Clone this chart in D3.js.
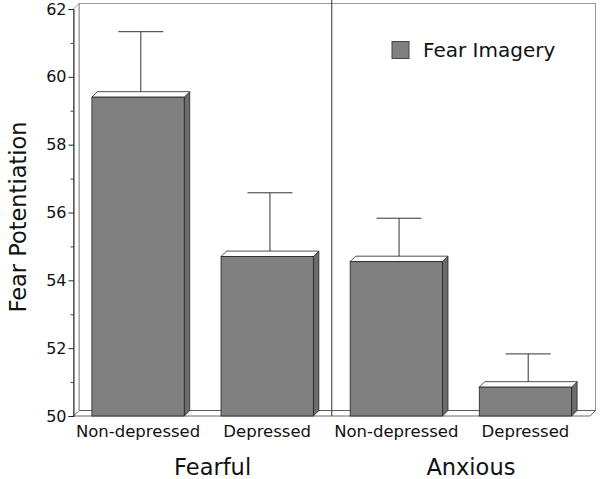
<!DOCTYPE html>
<html><head><meta charset="utf-8">
<script src="https://cdn.jsdelivr.net/npm/d3@7"></script>
<style>html,body{margin:0;padding:0;background:#fff;}svg{display:block;}</style>
</head><body>
<svg id="chart" width="600" height="479"></svg>
<script>
const categories = ["Non-depressed", "Depressed", "Non-depressed", "Depressed"];
const groups = ["Fearful", "Anxious"];
const groupOf = [0, 0, 1, 1];
const values = [59.4, 54.7, 54.55, 50.85];
const errors = [1.85, 1.8, 1.2, 0.9];
const yTicks = [50, 52, 54, 56, 58, 60, 62];
const yMinorTicks = [51, 53, 55, 57, 59, 61];
const seriesName = "Fear Imagery";

const svg = d3.select("#chart");
const font = "'DejaVu Sans', Verdana, sans-serif";
const pLeft = 73.5, pRight = 590, pTop = 9, pBottom = 416, dep = 5.5;

const x = d3.scaleBand().domain(d3.range(categories.length)).range([pLeft, pRight]).paddingInner(0.285).paddingOuter(0.1425);
const y = d3.scaleLinear().domain([50, 62]).range([pBottom, pTop]);

// back wall
const g = svg.append("g");
g.append("rect").attr("x", pLeft + dep).attr("y", pTop - dep).attr("width", pRight - pLeft).attr("height", pBottom - pTop)
  .attr("fill", "none").attr("stroke", "#999").attr("stroke-width", 1);
// floor
g.append("path").attr("d", `M${pLeft},${pBottom}L${pRight},${pBottom}L${pRight + dep},${pBottom - dep}L${pLeft + dep},${pBottom - dep}Z`)
  .attr("fill", "#fff").attr("stroke", "#444").attr("stroke-width", 0.8);
// left wall
g.append("path").attr("d", `M${pLeft},${pBottom}L${pLeft},${pTop}L${pLeft + dep},${pTop - dep}L${pLeft + dep},${pBottom - dep}Z`)
  .attr("fill", "#fff").attr("stroke", "#777").attr("stroke-width", 0.8);

// group divider
const divX = (x(1) + x.bandwidth() + x(2)) / 2;
g.append("line").attr("x1", divX).attr("x2", divX).attr("y1", 0).attr("y2", pBottom)
  .attr("stroke", "#333").attr("stroke-width", 1);

// bars
const bars = svg.append("g").selectAll("g").data(values).join("g");
bars.each(function(v, i) {
  const b = d3.select(this);
  const x0 = x(i), x1 = x(i) + x.bandwidth(), yt = y(v);
  const cx = (x0 + x1) / 2 + dep / 2;
  const ye = y(v + errors[i]) - dep / 2;
  b.append("line").attr("x1", cx).attr("x2", cx).attr("y1", yt - dep / 2).attr("y2", ye).attr("stroke", "#333").attr("stroke-width", 1);
  b.append("line").attr("x1", cx - 22.5).attr("x2", cx + 22.5).attr("y1", ye).attr("y2", ye).attr("stroke", "#333").attr("stroke-width", 1);
  b.append("path").attr("d", `M${x1},${yt}L${x1 + dep},${yt - dep}L${x1 + dep},${pBottom - dep}L${x1},${pBottom}Z`)
    .attr("fill", "#6c6c6c").attr("stroke", "#222").attr("stroke-width", 0.8);
  b.append("path").attr("d", `M${x0},${yt}L${x1},${yt}L${x1 + dep},${yt - dep}L${x0 + dep},${yt - dep}Z`)
    .attr("fill", "#fff").attr("stroke", "#222").attr("stroke-width", 0.8);
  b.append("rect").attr("x", x0).attr("y", yt).attr("width", x.bandwidth()).attr("height", pBottom - yt)
    .attr("fill", "#808080").attr("stroke", "#222").attr("stroke-width", 0.8);
});

// y axis
const yAxis = d3.axisLeft(y).tickValues(yTicks).tickSize(5).tickPadding(2).tickFormat(d3.format("d"));
const ya = svg.append("g").attr("transform", `translate(${pLeft},0)`).call(yAxis);
ya.select(".domain").attr("stroke", "#222");
ya.selectAll(".tick line").attr("stroke", "#222");
ya.selectAll("text").attr("font-family", font).attr("font-size", 16).attr("fill", "#111");
const yMinor = d3.axisLeft(y).tickValues(yMinorTicks).tickSize(3).tickFormat("");
const ym = svg.append("g").attr("transform", `translate(${pLeft},0)`).call(yMinor);
ym.select(".domain").remove();
ym.selectAll(".tick line").attr("stroke", "#444");

// category labels
svg.append("g").selectAll("text").data(categories).join("text")
  .attr("x", (c, i) => x(i) + x.bandwidth() / 2).attr("y", 437)
  .attr("text-anchor", "middle").attr("font-family", font).attr("font-size", 16.5).attr("fill", "#111")
  .text(c => c);

// group labels
svg.append("g").selectAll("text").data(groups).join("text")
  .attr("x", (gname, gi) => {
    const idx = groupOf.map((gg, i) => gg === gi ? i : -1).filter(i => i >= 0);
    return (x(idx[0]) + x(idx[idx.length - 1]) + x.bandwidth()) / 2 + 10;
  })
  .attr("y", 475).attr("text-anchor", "middle").attr("font-family", font).attr("font-size", 22.5).attr("fill", "#111")
  .text(t => t);

// y title
svg.append("text").attr("transform", "translate(26,217) rotate(-90)").attr("text-anchor", "middle")
  .attr("font-family", font).attr("font-size", 22.5).attr("fill", "#111").text("Fear Potentiation");

// legend
svg.append("rect").attr("x", 392).attr("y", 41.5).attr("width", 17).attr("height", 17)
  .attr("fill", "#808080").attr("stroke", "#444").attr("stroke-width", 1);
svg.append("text").attr("x", 423).attr("y", 57).attr("font-family", font).attr("font-size", 20).attr("fill", "#111").text(seriesName);
</script>
</body></html>
